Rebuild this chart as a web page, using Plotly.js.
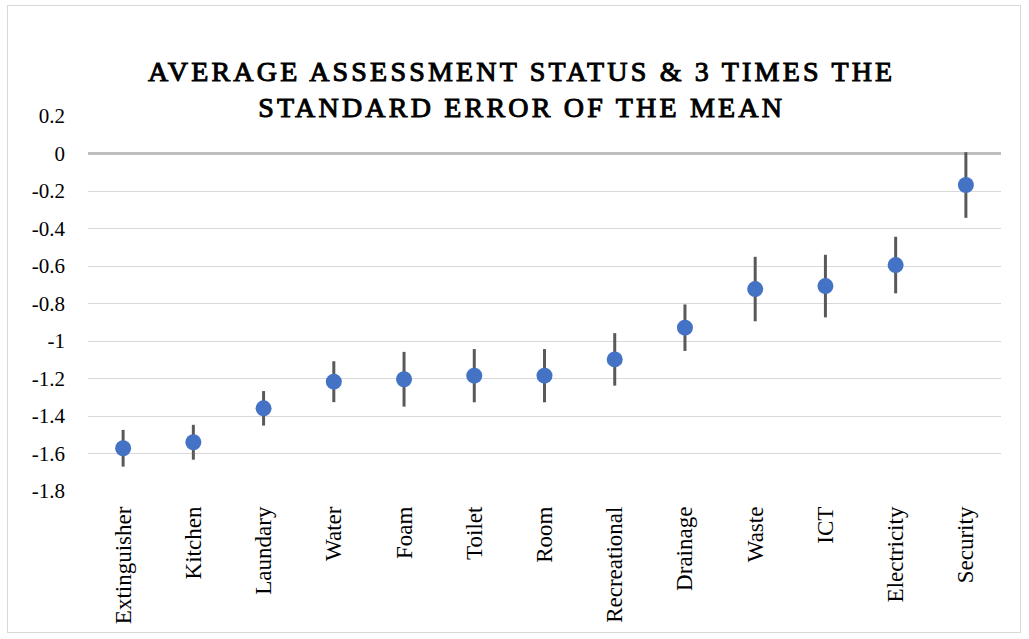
<!DOCTYPE html>
<html>
<head>
<meta charset="utf-8">
<script src="https://cdn.plot.ly/plotly-3.0.1.min.js"></script>
<style>
  html, body { margin: 0; padding: 0; background: #ffffff; }
  #wrap { position: relative; width: 1029px; height: 639px; }
  #chart { width: 1029px; height: 639px; }
  #frame { position: absolute; left: 7px; top: 5px; width: 1012px; height: 626px;
           border: 1px solid #d9d9d9; pointer-events: none; }
  #chart .gtitle { letter-spacing: 3.2px; stroke: #000000; stroke-width: 1px; }
</style>
</head>
<body>
<div id="wrap">
  <div id="chart"></div>
  <div id="frame"></div>
</div>
<script>
const categories = ["Extinguisher", "Kitchen", "Laundary", "Water", "Foam", "Toilet", "Room",
                    "Recreational", "Drainage", "Waste", "ICT", "Electricity", "Security"];
const meanValues = [-1.572, -1.540, -1.359, -1.217, -1.204, -1.185, -1.185,
                    -1.098, -0.929, -0.723, -0.707, -0.595, -0.168];
const threeSEM   = [0.098, 0.093, 0.092, 0.109, 0.146, 0.142, 0.142,
                    0.140, 0.124, 0.172, 0.167, 0.151, 0.175];
const yTickValues = [0.2, 0, -0.2, -0.4, -0.6, -0.8, -1, -1.2, -1.4, -1.6, -1.8];
const yTickLabels = ["0.2", "0", "-0.2", "-0.4", "-0.6", "-0.8", "-1", "-1.2", "-1.4", "-1.6", "-1.8"];

const serif = "Liberation Serif";

const trace = {
  type: "scatter",
  mode: "markers",
  x: categories,
  y: meanValues,
  marker: { color: "#4472C4", size: 16 },
  error_y: { type: "data", array: threeSEM, symmetric: true, color: "#595959", thickness: 3, width: 0 },
  hoverinfo: "x+y"
};

const layout = {
  width: 1029,
  height: 639,
  paper_bgcolor: "#ffffff",
  plot_bgcolor: "#ffffff",
  margin: { l: 88, r: 28, t: 116, b: 148 },
  showlegend: false,
  title: {
    text: "AVERAGE ASSESSMENT STATUS &amp; 3 TIMES THE<br>STANDARD ERROR OF THE MEAN",
    font: { family: serif, size: 28, color: "#000000" },
    x: 0.507, xref: "container", xanchor: "center",
    y: 1 - 81 / 639, yref: "container", yanchor: "top"
  },
  xaxis: {
    type: "category",
    range: [-0.5, 12.5],
    showgrid: false,
    showline: false,
    zeroline: false,
    ticks: "",
    tickangle: -90,
    ticklabelstandoff: 10,
    tickfont: { family: serif, size: 23, color: "#000000" }
  },
  yaxis: {
    range: [-1.8, 0.2],
    tickmode: "array",
    tickvals: yTickValues,
    ticktext: yTickLabels,
    showgrid: true,
    gridcolor: "#d9d9d9",
    gridwidth: 1,
    zeroline: true,
    zerolinecolor: "#bfbfbf",
    zerolinewidth: 2.5,
    showline: false,
    ticks: "",
    ticklabelstandoff: 22,
    tickfont: { family: serif, size: 21, color: "#000000" }
  }
};

Plotly.newPlot("chart", [trace], layout, { displayModeBar: false, staticPlot: true });
</script>
</body>
</html>
